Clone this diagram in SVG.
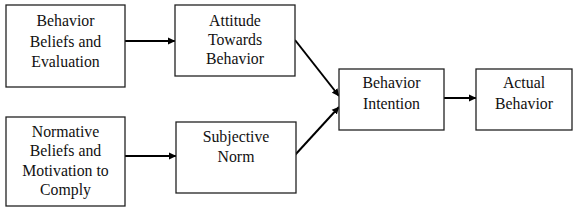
<svg xmlns="http://www.w3.org/2000/svg" width="576" height="209" viewBox="0 0 576 209">
<style>
.box{fill:#fff;stroke:#222;stroke-width:1.3}
.t{font-family:"Liberation Serif","Times New Roman",serif;font-size:15.8px;fill:#111;text-anchor:middle}
.c{stroke:#000;stroke-width:2;fill:none;marker-end:url(#ah)}
</style>
<defs>
<marker id="ah" markerWidth="8" markerHeight="8" refX="7" refY="4" orient="auto" markerUnits="userSpaceOnUse">
<path d="M0,0.5 L7.5,4 L0,7.5 Z" fill="#000"/>
</marker>
</defs>
<rect width="576" height="209" fill="#fff"/>
<g id="connectors">
<line class="c" x1="125" y1="41" x2="175" y2="41"/>
<line class="c" x1="125" y1="156" x2="176" y2="156"/>
<line class="c" x1="295" y1="40" x2="339" y2="96"/>
<line class="c" x1="295" y1="155" x2="339" y2="107"/>
<line class="c" x1="444" y1="98" x2="476" y2="98"/>
</g>
<g id="behavior-beliefs">
<rect class="box" x="6" y="5" width="119" height="82"/>
<text class="t" x="65.5" y="26">Behavior</text>
<text class="t" x="65.5" y="47">Beliefs and</text>
<text class="t" x="65.5" y="67">Evaluation</text>
</g>
<g id="normative-beliefs">
<rect class="box" x="6" y="117" width="119" height="89"/>
<text class="t" x="65.5" y="137">Normative</text>
<text class="t" x="65.5" y="156">Beliefs and</text>
<text class="t" x="65.5" y="176">Motivation to</text>
<text class="t" x="65.5" y="195">Comply</text>
</g>
<g id="attitude">
<rect class="box" x="175" y="5" width="120" height="71"/>
<text class="t" x="235" y="26">Attitude</text>
<text class="t" x="235" y="45">Towards</text>
<text class="t" x="235" y="64">Behavior</text>
</g>
<g id="subjective-norm">
<rect class="box" x="176" y="122" width="120" height="71"/>
<text class="t" x="236" y="142">Subjective</text>
<text class="t" x="236" y="162">Norm</text>
</g>
<g id="behavior-intention">
<rect class="box" x="339" y="69" width="105" height="61"/>
<text class="t" x="391.5" y="88">Behavior</text>
<text class="t" x="391.5" y="109">Intention</text>
</g>
<g id="actual-behavior">
<rect class="box" x="476" y="69" width="96" height="61"/>
<text class="t" x="524" y="88">Actual</text>
<text class="t" x="524" y="109">Behavior</text>
</g>
</svg>
